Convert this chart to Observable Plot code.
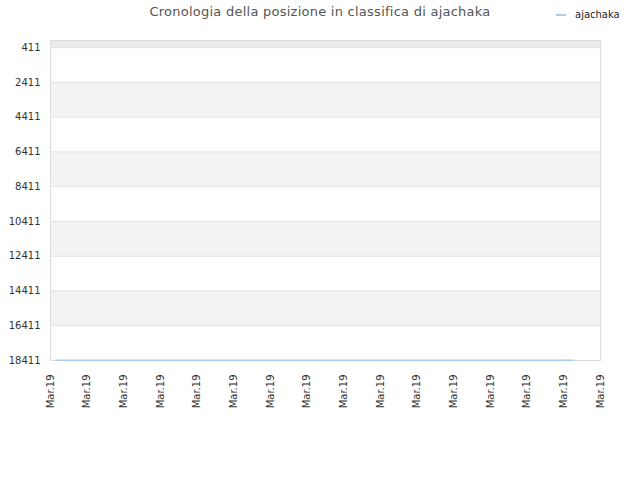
<!DOCTYPE html>
<html><head><meta charset="utf-8">
<script src="https://cdn.jsdelivr.net/npm/d3@7"></script>
<script src="https://cdn.jsdelivr.net/npm/@observablehq/plot@0.6"></script>
<style>
body{margin:0;background:#fff;font-family:"DejaVu Sans",sans-serif;}
#wrap{position:relative;width:640px;height:480px;}
#title{position:absolute;left:0;width:640px;top:4px;text-align:center;font-size:13px;color:#555;letter-spacing:0.25px;}
#legend{position:absolute;left:556px;top:9px;font-size:10px;color:#222;}
#legend span.sw{display:inline-block;width:10px;height:2px;background:#a8cbee;vertical-align:middle;margin-right:9px;}
</style></head>
<body><div id="wrap"><div id="title">Cronologia della posizione in classifica di ajachaka</div>
<div id="legend"><span class="sw"></span>ajachaka</div></div>
<script>
const xTicks = d3.range(16);
const xTickLabels = xTicks.map(() => "Mar.19");
const yTicks = [411, 2411, 4411, 6411, 8411, 10411, 12411, 14411, 16411, 18411];
const seriesX = [0.14, 14.26];
const seriesRank = [18400, 18400];
const bandStarts = [0, 2411, 6411, 10411, 14411];
const bandEnds = [411, 4411, 8411, 12411, 16411];
const bandFill = ["#ececec", "#f3f3f3", "#f3f3f3", "#f3f3f3", "#f3f3f3"];

const bands = bandStarts.map((s, i) => ({y1: s, y2: bandEnds[i], fill: bandFill[i]}));
const series = seriesX.map((x, i) => ({x, rank: seriesRank[i]}));

const chart = Plot.plot({
  width: 640, height: 480,
  marginLeft: 50, marginRight: 40, marginTop: 40, marginBottom: 120,
  style: {fontFamily: "DejaVu Sans", fontSize: "10px", color: "#333", background: "transparent"},
  x: {domain: [0, 15], ticks: xTicks, tickFormat: (d) => xTickLabels[d], tickRotate: -90, tickSize: 0, tickPadding: 14, label: null},
  y: {domain: [0, 18411], reverse: true, ticks: yTicks, tickFormat: d => String(d), tickSize: 0, tickPadding: 10, label: null},
  marks: [
    Plot.rect(bands, {x1: 0, x2: 15, y1: "y1", y2: "y2", fill: "fill"}),
    Plot.ruleY(yTicks, {stroke: "#e2e2e2"}),
    Plot.frame({stroke: "#dddddd"}),
    Plot.line(series, {x: "x", y: "rank", stroke: "#a8cbee", strokeWidth: 1.5})
  ]
});
document.getElementById("wrap").appendChild(chart);
chart.style.position = "absolute"; chart.style.left = "0"; chart.style.top = "0";
</script></body></html>
